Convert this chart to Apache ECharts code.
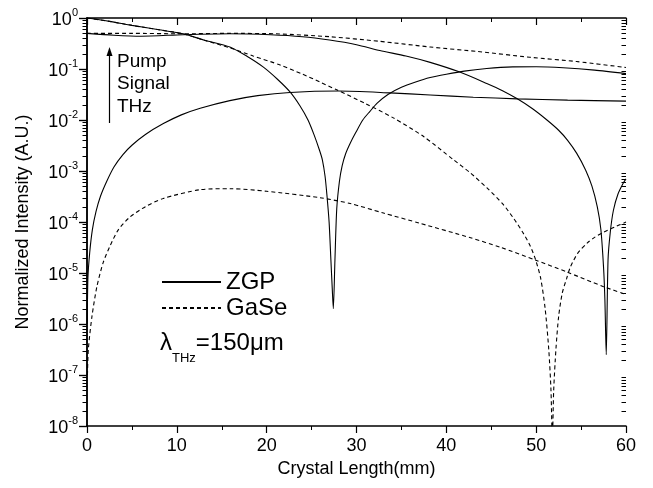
<!DOCTYPE html>
<html>
<head>
<meta charset="utf-8">
<script src="https://cdn.jsdelivr.net/npm/echarts@6/dist/echarts.min.js"></script>
<style>
  html, body { margin: 0; padding: 0; background: #fff; }
  #chart { width: 653px; height: 488px; }
</style>
</head>
<body>
<div id="chart"></div>
<script>
// [crystal length (mm), normalized intensity]
const zgpPump = [
  [0, 1.0], [2.5, 0.86], [5, 0.716], [8, 0.589], [10.7, 0.49], [13, 0.37], [15.9, 0.27],
  [17.8, 0.178], [19.6, 0.11], [21.2, 0.063], [22.6, 0.0355], [23.7, 0.019], [24.6, 0.01],
  [25.3, 0.005], [25.9, 0.0025], [26.2, 1.66e-3], [26.5, 7.9e-4], [26.7, 3.5e-4],
  [26.95, 1e-4], [27.15, 1.8e-5], [27.3, 5e-6], [27.42, 2e-6], [27.6, 1.8e-5],
  [27.8, 1.8e-4], [28.1, 6.3e-4], [28.4, 1.26e-3], [28.8, 2.2e-3], [29.3, 3.5e-3],
  [29.9, 5.6e-3], [30.7, 0.01], [31.5, 0.0148], [32.3, 0.0214], [33.5, 0.0316],
  [35, 0.0437], [36.5, 0.055], [38.2, 0.068], [40, 0.079], [42, 0.091], [44.5, 0.102],
  [47.4, 0.11], [50, 0.111], [53, 0.106], [56.5, 0.095], [60, 0.081]
];
const zgpSignal = [
  [0, 0.5], [3, 0.46], [6, 0.44], [10.7, 0.47], [15.9, 0.49], [20.4, 0.47], [24, 0.43],
  [27, 0.37], [30, 0.30], [32.6, 0.23], [35.5, 0.18], [38.2, 0.135], [41.5, 0.087],
  [44.5, 0.052], [46.2, 0.038], [47.9, 0.026], [49.6, 0.0166], [51.2, 0.01],
  [52.5, 6.3e-3], [53.5, 4e-3], [54.5, 2.24e-3], [55.5, 1.05e-3], [56.2, 5.1e-4],
  [56.8, 2e-4], [57.2, 7.2e-5], [57.5, 1.3e-5], [57.65, 3e-6], [57.8, 2.5e-7],
  [58.0, 1.8e-5], [58.25, 6.3e-5], [58.6, 1.7e-4], [59.1, 3.5e-4], [59.7, 5.8e-4],
  [60, 7e-4]
];
const zgpThz = [
  [0.03, 1e-6], [0.1, 7.9e-6], [0.3, 2.5e-5], [0.6, 7.1e-5], [1.0, 1.6e-4], [1.5, 3.2e-4],
  [2.2, 6.3e-4], [3.0, 1.2e-3], [4.0, 2.1e-3], [5.0, 3.2e-3], [6.5, 5.2e-3], [8.5, 8.5e-3],
  [10.5, 0.0126], [12.6, 0.017], [15.9, 0.024], [19, 0.030], [22.6, 0.0347], [28, 0.037],
  [33.7, 0.034], [38.2, 0.031], [43, 0.028], [47.9, 0.026], [53.5, 0.0245], [60, 0.0234]
];
const gasePump = [
  [0, 1.0], [2.5, 0.86], [5, 0.716], [8, 0.589], [10.7, 0.49], [13, 0.37], [15.9, 0.26],
  [18.5, 0.18], [21.5, 0.12], [24, 0.079], [25.9, 0.056], [27.8, 0.039], [31, 0.021],
  [34.1, 0.011], [37.5, 4.7e-3], [40.8, 1.66e-3], [42.7, 9.1e-4], [44.5, 4.7e-4],
  [46.3, 2.24e-4], [47.5, 1.17e-4], [48.5, 6.3e-5], [49.3, 3.5e-5], [49.9, 1.9e-5],
  [50.5, 7.9e-6], [51.0, 2e-6], [51.4, 3.2e-7], [51.65, 5e-8], [51.8, 5e-9],
  [51.95, 5e-8], [52.2, 3.2e-7], [52.5, 1.4e-6], [52.9, 4e-6], [53.4, 7.9e-6],
  [53.8, 1.3e-5], [54.6, 2.4e-5], [55.7, 3.9e-5], [56.5, 5e-5], [57.5, 6.3e-5],
  [58.7, 7.9e-5], [60, 1e-4]
];
const gaseSignal = [
  [0, 0.5], [5, 0.5], [10.7, 0.49], [15.9, 0.5], [21, 0.49], [27, 0.43], [32.5, 0.35],
  [38.2, 0.27], [43.5, 0.22], [49.3, 0.17], [54.5, 0.14], [60, 0.107]
];
const gaseThz = [
  [0.05, 1e-7], [0.15, 3.2e-7], [0.55, 1.4e-6], [1.1, 5.4e-6], [1.8, 1.6e-5],
  [2.6, 3.5e-5], [3.5, 7.1e-5], [4.8, 1.26e-4], [6.5, 2e-4], [8.5, 2.9e-4], [12.6, 4.3e-4],
  [16, 4.5e-4], [20, 4e-4], [25.9, 3e-4], [29.3, 2.3e-4], [33, 1.5e-4], [37, 9.5e-5],
  [42.7, 4.9e-5], [46, 3.2e-5], [49.9, 1.8e-5], [53.4, 1.05e-5], [57.5, 5.4e-6], [60, 3.8e-6]
];
const xTicks = { min: 0, max: 60, step: 10 };
const yRange = { min: 1e-8, max: 1 };

const font = '"Liberation Sans", Arial, sans-serif';
const chart = echarts.init(document.getElementById('chart'));

function makeLine(name, data, dashed) {
  return {
    name: name,
    type: 'line',
    data: data,
    symbol: 'none',
    smooth: 0.25,
    lineStyle: { color: '#000', width: 1.1, type: dashed ? [4, 3] : 'solid' },
    itemStyle: { color: '#000' },
    emphasis: { disabled: true },
    animation: false
  };
}

const option = {
  animation: false,
  backgroundColor: '#fff',
  textStyle: { fontFamily: font, color: '#000' },
  grid: { left: 87, right: 27, top: 18, bottom: 62 },
  legend: {
    data: ['ZGP', 'GaSe'],
    orient: 'vertical',
    left: 156,
    top: 265,
    itemWidth: 59,
    itemHeight: 10,
    itemGap: 2,
    selectedMode: false,
    itemStyle: { opacity: 0 },
    textStyle: { fontFamily: font, fontSize: 24, color: '#000' }
  },
  xAxis: [{
    type: 'value',
    min: xTicks.min, max: xTicks.max, interval: xTicks.step,
    name: 'Crystal Length(mm)',
    nameLocation: 'middle',
    nameGap: 31,
    nameTextStyle: { fontSize: 18, fontFamily: font, color: '#000' },
    axisLine: { lineStyle: { color: '#000', width: 1.5 } },
    axisTick: { inside: false, length: 7, lineStyle: { color: '#000', width: 1.2 } },
    minorTick: { show: true, splitNumber: 2, length: 4, lineStyle: { color: '#000', width: 1 } },
    axisLabel: { fontSize: 18, color: '#000', margin: 11, fontFamily: font },
    splitLine: { show: false }
  }, {
    type: 'value', position: 'top',
    min: xTicks.min, max: xTicks.max, interval: xTicks.step,
    axisLine: { lineStyle: { color: '#000', width: 1.5 } },
    axisTick: { inside: true, length: 7, lineStyle: { color: '#000', width: 1.2 } },
    minorTick: { show: true, splitNumber: 2, length: 4, lineStyle: { color: '#000', width: 1 } },
    axisLabel: { show: false },
    splitLine: { show: false }
  }],
  yAxis: [{
    type: 'log', logBase: 10,
    min: yRange.min, max: yRange.max, splitNumber: 8,
    name: 'Normalized Intensity (A.U.)',
    nameLocation: 'middle',
    nameGap: 55,
    nameTextStyle: { fontSize: 18, fontFamily: font, color: '#000' },
    axisLine: { show: true, lineStyle: { color: '#000', width: 1.5 } },
    axisTick: { show: true, inside: false, length: 8, lineStyle: { color: '#000', width: 1.2 } },
    axisLabel: {
      margin: 9,
      formatter: function (v) {
        const e = Math.round(Math.log10(v));
        return '{b|10}{s|' + e + '}';
      },
      rich: {
        b: { fontSize: 18, fontFamily: font, color: '#000', lineHeight: 22, verticalAlign: 'bottom' },
        s: { fontSize: 11, fontFamily: font, color: '#000', lineHeight: 22, verticalAlign: 'top' }
      }
    },
    splitLine: { show: false }
  }, {
    type: 'log', logBase: 10, position: 'right',
    min: yRange.min, max: yRange.max, splitNumber: 8,
    axisLine: { show: true, lineStyle: { color: '#000', width: 1.5 } },
    axisTick: { show: true, inside: true, length: 8, lineStyle: { color: '#000', width: 1.2 } },
    axisLabel: { show: false },
    splitLine: { show: false }
  }],
  series: [
    makeLine('ZGP', zgpPump, false),
    makeLine('ZGP', zgpSignal, false),
    makeLine('ZGP', zgpThz, false),
    makeLine('GaSe', gasePump, true),
    makeLine('GaSe', gaseSignal, true),
    makeLine('GaSe', gaseThz, true)
  ]
};
chart.setOption(option);

// log minor ticks (2..9 per decade) on both vertical axes, placed via the axis scale
const x0 = chart.convertToPixel({ xAxisIndex: 0 }, xTicks.min);
const x1 = chart.convertToPixel({ xAxisIndex: 0 }, xTicks.max);
const minor = [];
for (let e = -8; e < 0; e++) {
  for (let m = 2; m <= 9; m++) {
    const py = Math.round(chart.convertToPixel({ yAxisIndex: 0 }, m * Math.pow(10, e))) + 0.5;
    minor.push({ type: 'line', silent: true, shape: { x1: x0 - 4.5, y1: py, x2: x0, y2: py }, style: { stroke: '#000', lineWidth: 1 } });
    minor.push({ type: 'line', silent: true, shape: { x1: x1 - 4.5, y1: py, x2: x1, y2: py }, style: { stroke: '#000', lineWidth: 1 } });
  }
}

// annotation: arrow with Pump / Signal / THz, wavelength note
const notes = [
  { type: 'line', silent: true, shape: { x1: 109.5, y1: 123, x2: 109.5, y2: 54 }, style: { stroke: '#000', lineWidth: 1.2 } },
  { type: 'polygon', silent: true, shape: { points: [[109.5, 47], [106.5, 56], [112.5, 56]] }, style: { fill: '#000' } },
  { type: 'text', silent: true, left: 117, top: 52, style: { text: 'Pump', font: '19px ' + font, fill: '#000' } },
  { type: 'text', silent: true, left: 117, top: 74, style: { text: 'Signal', font: '19px ' + font, fill: '#000' } },
  { type: 'text', silent: true, left: 117, top: 97, style: { text: 'THz', font: '19px ' + font, fill: '#000' } },
  {
    type: 'text', silent: true, left: 160, top: 331,
    style: {
      text: '{a|λ}{t|THz}{a|=150μm}',
      rich: {
        a: { fontSize: 24, fontFamily: font, fill: '#000', lineHeight: 34, verticalAlign: 'top' },
        t: { fontSize: 13, fontFamily: font, fill: '#000', lineHeight: 18, verticalAlign: 'bottom' }
      }
    }
  }
];

chart.setOption({ graphic: minor.concat(notes) });
</script>
</body>
</html>
